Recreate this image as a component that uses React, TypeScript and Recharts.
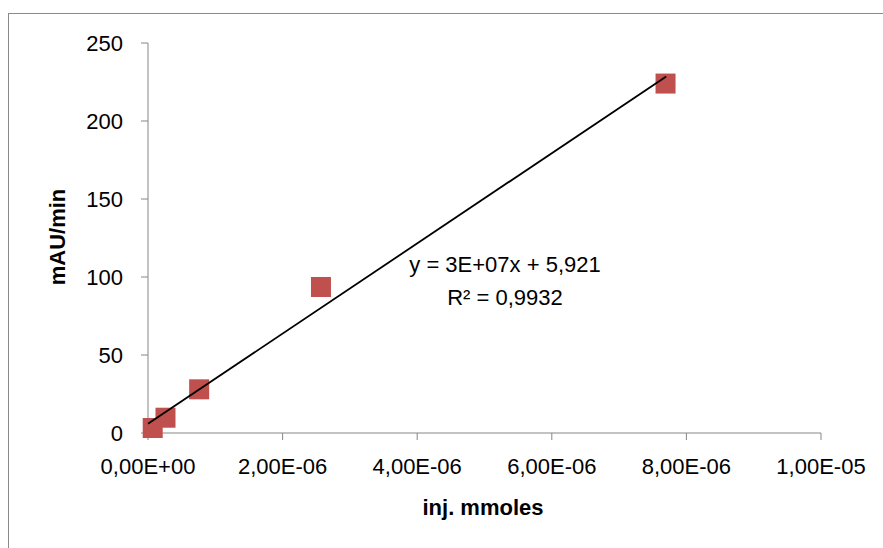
import { ScatterChart, Scatter, XAxis, YAxis, Customized } from 'recharts';

// measured points (inj. mmoles vs mAU/min)
const injMmoles = [0.07e-6, 0.26e-6, 0.76e-6, 2.57e-6, 7.69e-6];
const mauMin = [3.2, 9.8, 28, 93.6, 224];

// linear trendline endpoints as drawn
const trendX = [0, 7.7e-6];
const trendY = [5.921, 228.5];

const xTicks = [0, 2e-6, 4e-6, 6e-6, 8e-6, 1e-5];
const xTickLabels = ['0,00E+00', '2,00E-06', '4,00E-06', '6,00E-06', '8,00E-06', '1,00E-05'];
const yTicks = [0, 50, 100, 150, 200, 250];

const points = injMmoles.map((x, i) => ({ x, y: mauMin[i] }));
const trend = trendX.map((x, i) => ({ x, y: trendY[i] }));

const FONT = '"Liberation Sans", Arial, sans-serif';
const AXIS = '#868686';
const MARKER = '#C0504D';

const Square = (props: any) => {
  const { cx, cy } = props;
  if (cx == null || cy == null) return <g />;
  return <rect x={cx - 10} y={cy - 10} width={20} height={20} fill={MARKER} />;
};

const Annotations = () => (
  <g fontFamily={FONT} fill="#000">
    <text x={505} y={272} fontSize={22} textAnchor="middle">y = 3E+07x + 5,921</text>
    <text x={505} y={305} fontSize={22} textAnchor="middle">R² = 0,9932</text>
    <text x={483} y={515} fontSize={22} fontWeight="bold" textAnchor="middle">inj. mmoles</text>
    <text
      x={0}
      y={0}
      fontSize={22}
      fontWeight="bold"
      textAnchor="middle"
      transform="translate(65, 237) rotate(-90)"
    >
      mAU/min
    </text>
  </g>
);

export default function App() {
  return (
    <div style={{ position: 'absolute', left: 0, top: 0, width: 883, height: 548, background: '#fff', overflow: 'hidden' }}>
      <div
        style={{
          position: 'absolute',
          left: 8,
          top: 13,
          width: 900,
          height: 560,
          border: '1.5px solid #8a8a8a',
        }}
      />
      <div style={{ position: 'absolute', left: 0, top: 0 }}>
        <ScatterChart width={883} height={548} margin={{ top: 43, right: 62, bottom: 55, left: 0 }}>
          <XAxis
            type="number"
            dataKey="x"
            domain={[0, 1e-5]}
            ticks={xTicks}
            tickFormatter={(v: number) => xTickLabels[xTicks.findIndex((t) => Math.abs(t - v) < 1e-9)] ?? ''}
            height={60}
            stroke={AXIS}
            tickSize={7}
            tickMargin={18}
            interval={0}
            tick={{ fill: '#000', fontSize: 22, fontFamily: FONT }}
          />
          <YAxis
            type="number"
            dataKey="y"
            domain={[0, 250]}
            ticks={yTicks}
            width={148}
            stroke={AXIS}
            tickSize={7}
            tickMargin={18}
            interval={0}
            tick={{ fill: '#000', fontSize: 22, fontFamily: FONT }}
          />
          <Scatter data={points} shape={<Square />} isAnimationActive={false} />
          <Scatter
            data={trend}
            line={{ stroke: '#000', strokeWidth: 1.8 }}
            shape={() => <g />}
            isAnimationActive={false}
          />
          <Customized component={Annotations} />
        </ScatterChart>
      </div>
    </div>
  );
}
